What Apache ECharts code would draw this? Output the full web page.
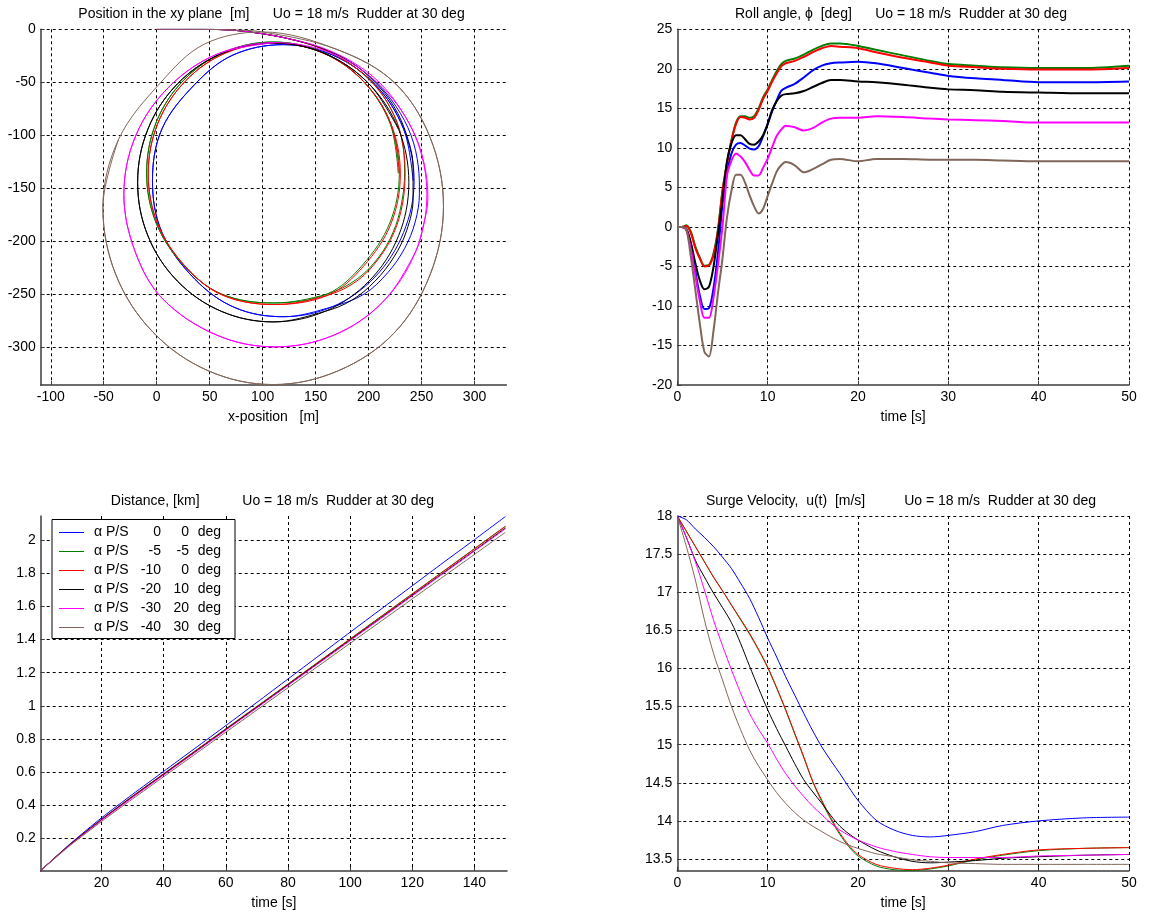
<!DOCTYPE html>
<html><head><meta charset="utf-8">
<script src="https://cdn.jsdelivr.net/npm/echarts@6/dist/echarts.min.js"></script>
<style>html,body{margin:0;padding:0;background:#fff}#c{width:1158px;height:915px}</style>
</head><body><div id="c"></div>
<script>
// ---------- legend / series labels ----------
const PORT = ['0', '-5', '-10', '-20', '-30', '-40'];
const STBD = ['0', '-5', '0', '10', '20', '30'];
const NAMES = ['a0', 'a1', 'a2', 'a3', 'a4', 'a5'];
const COLORS = ['#0000ff', '#008000', '#ff0000', '#000000', '#ff00ff', '#806659'];

// ---------- panel 1: xy position [m] ----------
const xyBlue = [[0,0],[35,0],[66,-0.5],[95,-3.5],[125,-9],[155,-17.5],[183,-31],[207,-50],[226,-73],[240,-100],[247,-130],[248,-155],[244,-182],[234,-207],[218,-230],[196,-250],[166,-262],[119.5,-271.5],[74,-263],[36,-236],[5,-192],[-4,-143],[5,-94],[36,-52],[72,-24.3],[119.5,-14.5],[166,-24.3],[206,-52],[233,-94],[243,-143],[233,-192],[206,-234],[166,-262],[119.5,-271.5],[74,-263],[36,-236],[5,-192],[-4,-143],[5,-94],[36,-52],[72,-24.3],[119.5,-14.5],[166,-24.3],[206,-52],[233,-94],[242,-143]];
const xyGreen = [[0,0],[35,0],[66,-0.5],[95,-3.5],[125,-9],[155,-18],[183,-33],[205,-52],[221,-75],[231,-102],[234,-135],[231,-165],[223,-192],[209,-216],[189,-236],[161,-250],[110,-258.5],[61,-250],[25.5,-223],[-0.5,-183],[-9.5,-136],[-0.5,-88],[25.5,-48],[64,-21.5],[110,-12],[156,-21.5],[194,-48],[220,-88],[229,-136],[220,-183],[194,-223],[161,-250],[110,-258.5],[61,-250],[25.5,-223],[-0.5,-183],[-9.5,-136],[-0.5,-88],[25.5,-48],[64,-21.5],[110,-12],[156,-21.5],[194,-48],[220,-88],[228,-136]];
const xyRed = [[0,0],[35,0],[66,-0.5],[95,-3.5],[125,-9],[155,-18],[183,-33],[205,-52],[221,-75],[231,-102],[234.5,-135],[232,-165],[224,-192],[210,-216],[190,-237],[162,-251],[111,-260],[62,-251],[27,-224],[1,-184],[-8,-136.5],[1,-89],[27,-49],[65,-22.4],[111,-13],[157,-22.4],[195,-49],[221,-89],[230,-136.5],[221,-184],[195,-224],[162,-251],[111,-260],[62,-251],[27,-224],[1,-184],[-8,-136.5],[1,-89],[27,-49],[65,-22.4],[111,-13],[157,-22.4],[195,-49],[221,-89],[229,-136]];
const xyBlack = [[0,0],[35,0],[66,-0.5],[95,-3.5],[125,-9],[155,-17.5],[183,-31],[206,-50],[224,-73],[236,-100],[242,-130],[242,-160],[236,-190],[224,-215],[206,-238],[184,-256],[159,-266.4],[110,-276.4],[61,-266.4],[19.5,-237.8],[-8.3,-195.1],[-18,-144.7],[-8.3,-94.3],[19.5,-51.6],[61,-23],[110,-13],[159,-23],[200.5,-51.6],[228.3,-94.3],[238,-144.7],[228.3,-195.1],[200.5,-237.8],[159,-266.4],[110,-276.4],[61,-266.4],[19.5,-237.8],[-8.3,-195.1],[-18,-144.7],[-8.3,-94.3],[19.5,-51.6],[61,-23],[110,-13],[159,-23],[200.5,-51.6],[228,-94]];
const xyMagenta = [[0,0],[35,0],[66,-0.5],[95,-3.5],[125,-9],[155,-17],[185,-31],[210,-50],[230,-75],[246,-105],[254,-135],[256,-160],[251,-188],[244,-211],[213,-258],[167,-289],[112,-300],[57,-289],[6,-255],[-20,-211],[-31,-156],[-20,-101],[11,-55],[57,-23.5],[112,-12.6],[167,-23.5],[213,-55],[244,-101],[255,-156],[244,-211],[213,-258],[167,-289],[112,-300],[57,-289],[6,-255],[-20,-211],[-31,-156],[-20,-101],[11,-55],[57,-23.5],[112,-12.6]];
const xyBrown = [[0,0],[35,0],[66,-0.5],[100,-2.5],[170,-19],[224,-50],[258,-102],[270.7,-167],[258,-232],[224,-287],[171.5,-322.5],[110,-335.6],[48.5,-322.5],[-3.6,-286],[-38.5,-232],[-50.8,-168],[-36,-104],[4,-50],[45,-14],[100,-2.5],[170,-19],[224,-50],[258,-102],[270.7,-167],[258,-232],[224,-287],[171.5,-322.5],[110,-335.6],[48.5,-322.5],[-3.6,-286],[-38.5,-232],[-50.8,-168],[-36,-104]];

// ---------- panel 2: roll angle [deg] ----------
const T2 = [0,0.5,1,1.5,2,2.5,3,3.5,4,4.5,5,5.5,6,6.5,7,7.5,8,8.5,9,9.5,10,10.5,11,11.5,12,13,14,15,16,17,18,20,22,25,28,30,33,36,40,45,50];
const rollBlue = [0,0,-0.3,-2.2,-5.6,-8.7,-10.4,-10.3,-7.8,-3.3,2.8,6.8,9.3,10.4,10.6,10.3,9.9,9.8,10.2,11.5,13.0,14.6,16.0,17.2,17.6,18.1,18.9,19.8,20.4,20.7,20.8,20.9,20.7,20.1,19.5,19.1,18.8,18.6,18.3,18.3,18.4];
const rollGreen = [0,0,0.2,-0.6,-2.5,-3.9,-4.9,-4.8,-3.4,-0.3,4.6,8.1,11.0,13.2,14.0,14.0,13.8,14.0,15.0,16.4,17.4,18.6,19.7,20.6,21.0,21.3,21.8,22.4,22.9,23.2,23.2,22.9,22.4,21.7,21.0,20.6,20.4,20.2,20.1,20.1,20.4];
const rollRed = [0,0,0.1,-0.8,-2.7,-4.0,-5.0,-4.9,-3.6,-0.5,4.5,8.0,10.9,13.0,13.9,13.8,13.6,13.8,14.8,16.2,17.2,18.4,19.4,20.3,20.7,21.0,21.5,22.1,22.6,22.9,22.8,22.6,22.1,21.4,20.8,20.4,20.2,20.0,19.9,19.9,20.1];
const rollBlack = [0,0,-0.3,-2.0,-4.6,-6.8,-7.9,-7.6,-5.1,-1.0,3.4,8.3,10.6,11.6,11.6,11.1,10.5,10.4,10.8,11.6,13.0,14.8,15.9,16.6,16.8,16.9,17.2,17.7,18.2,18.6,18.6,18.4,18.3,18.0,17.6,17.4,17.3,17.1,17.0,16.9,16.9];
const rollMagenta = [0,0,-0.4,-2.8,-6.2,-9.4,-11.5,-11.5,-9.0,-4.8,0.0,6.5,8.4,9.3,8.9,8.2,7.2,6.5,6.5,7.5,8.6,10.1,11.5,12.3,12.8,12.6,12.2,12.5,13.2,13.7,13.8,13.8,14.0,13.9,13.7,13.6,13.5,13.4,13.2,13.2,13.2];
const rollBrown = [0,0,-0.3,-3.8,-8.0,-12.3,-15.8,-16.4,-13.2,-8.4,-4.0,1.2,4.6,6.6,6.6,5.6,4.0,2.6,1.7,2.3,3.9,5.5,7.0,7.8,8.2,7.8,6.9,7.3,7.9,8.5,8.6,8.3,8.6,8.6,8.5,8.5,8.5,8.4,8.3,8.3,8.3];

// ---------- panel 3: distance [km] ----------
const T3 = [0.4,10,20,30,40,50,60,70,80,90,100,110,120,130,140,150];
const dBlue = [0.007,0.17,0.325,0.467,0.605,0.743,0.881,1.021,1.162,1.303,1.444,1.584,1.724,1.864,2.002,2.142];
const dGreen = [0.007,0.167,0.316,0.456,0.591,0.727,0.862,0.997,1.132,1.268,1.404,1.540,1.676,1.812,1.948,2.084];
const dRed = [0.007,0.167,0.315,0.455,0.590,0.725,0.860,0.995,1.130,1.266,1.402,1.538,1.674,1.810,1.946,2.082];
const dBlack = [0.007,0.166,0.313,0.452,0.587,0.722,0.857,0.992,1.127,1.262,1.397,1.532,1.667,1.802,1.937,2.073];
const dMagenta = [0.007,0.163,0.310,0.448,0.583,0.718,0.853,0.988,1.123,1.258,1.393,1.528,1.663,1.798,1.933,2.068];
const dBrown = [0.007,0.160,0.303,0.439,0.573,0.707,0.841,0.975,1.109,1.243,1.377,1.511,1.645,1.779,1.913,2.047];

// ---------- panel 4: surge velocity [m/s] ----------
const T4 = [0,1,2,3,4,5,6,7,8,9,10,11,12,13,14,15,16,17,18,19,20,22,24,26,28,30,33,36,40,45,50];
const uBlue = [18.0,17.95,17.83,17.72,17.6,17.46,17.31,17.12,16.92,16.67,16.40,16.15,15.89,15.65,15.41,15.18,14.97,14.79,14.62,14.44,14.27,14.01,13.88,13.81,13.79,13.81,13.86,13.94,14.0,14.04,14.05];
const uGreen = [18.0,17.8,17.6,17.4,17.2,17.02,16.83,16.64,16.45,16.24,16.01,15.74,15.45,15.14,14.83,14.51,14.25,14.02,13.82,13.66,13.54,13.41,13.36,13.35,13.37,13.41,13.49,13.55,13.61,13.64,13.65];
const uRed = [18.0,17.8,17.6,17.4,17.2,17.02,16.83,16.65,16.46,16.25,16.02,15.75,15.46,15.15,14.84,14.52,14.27,14.04,13.84,13.68,13.56,13.43,13.38,13.36,13.38,13.42,13.5,13.56,13.62,13.64,13.65];
const uBlack = [18.0,17.72,17.42,17.2,16.99,16.8,16.6,16.33,16.03,15.74,15.46,15.21,14.98,14.75,14.54,14.38,14.23,14.07,13.93,13.83,13.75,13.62,13.53,13.47,13.45,13.46,13.48,13.51,13.53,13.55,13.56];
const uMagenta = [18.0,17.72,17.4,17.03,16.64,16.3,15.98,15.68,15.41,15.2,15.02,14.81,14.62,14.46,14.32,14.19,14.08,13.97,13.88,13.81,13.75,13.66,13.6,13.56,13.53,13.52,13.52,13.52,13.54,13.55,13.56];
const uBrown = [18.0,17.6,17.16,16.64,16.2,15.85,15.5,15.2,14.93,14.72,14.54,14.37,14.23,14.11,14.01,13.93,13.86,13.79,13.73,13.68,13.64,13.57,13.53,13.49,13.47,13.45,13.44,13.43,13.43,13.43,13.43];

// ---------- titles ----------
const TITLE1 = 'Position in the xy plane  [m]      Uo = 18 m/s  Rudder at 30 deg';
const TITLE2 = 'Roll angle, \u03d5  [deg]      Uo = 18 m/s  Rudder at 30 deg';
const TITLE3 = 'Distance, [km]           Uo = 18 m/s  Rudder at 30 deg';
const TITLE4 = 'Surge Velocity,  u(t)  [m/s]          Uo = 18 m/s  Rudder at 30 deg';

const FONT = '"Liberation Sans", Arial, sans-serif';
const AX = '#3c3c3c';

function mkAxis(p) {
  const a = {
    type: 'value', gridIndex: p.grid, min: p.min, max: p.max,
    position: p.pos,
    axisLine: {show: true, onZero: false, lineStyle: {color: AX, width: 1.5}},
    axisTick: {show: true, inside: true, length: 4, lineStyle: {color: AX, width: 1}},
    axisLabel: {show: true, color: '#000', fontSize: 14, fontFamily: FONT, margin: p.margin,
      showMinLabel: p.minLabel, showMaxLabel: p.maxLabel},
    splitLine: {show: true, showMinLine: p.minLine, showMaxLine: p.maxLine,
      lineStyle: {color: '#000', width: 1, type: [3, 3]}}
  };
  if (p.interval != null) a.interval = p.interval;
  if (p.split != null) a.splitNumber = p.split;
  if (p.name) {
    a.name = p.name; a.nameLocation = 'middle'; a.nameGap = 25;
    a.nameTextStyle = {color: '#000', fontSize: 14, fontFamily: FONT};
  }
  return a;
}

const grids = [
  {left: 40.7, top: 29.3, width: 465.6, height: 355.7},
  {left: 677.3, top: 29.3, width: 451.7, height: 355.7},
  {left: 40.7, top: 516, width: 466.3, height: 355},
  {left: 677.3, top: 516, width: 451.7, height: 355}
];

const xAxes = [
  mkAxis({grid: 0, pos: 'bottom', min: -109.5, max: 330, split: 9, margin: 5, minLabel: false, maxLabel: false, minLine: false, maxLine: false, name: 'x-position   [m]'}),
  mkAxis({grid: 1, pos: 'bottom', min: 0, max: 50, interval: 10, margin: 5, minLabel: true, maxLabel: true, minLine: false, maxLine: true, name: 'time [s]'}),
  mkAxis({grid: 2, pos: 'bottom', min: 0.4, max: 150.5, split: 7, margin: 5, minLabel: false, maxLabel: false, minLine: false, maxLine: false, name: 'time [s]'}),
  mkAxis({grid: 3, pos: 'bottom', min: 0, max: 50, interval: 10, margin: 5, minLabel: true, maxLabel: true, minLine: false, maxLine: true, name: 'time [s]'})
];
const yAxes = [
  mkAxis({grid: 0, pos: 'left', min: -336, max: 0, split: 7, margin: 5, minLabel: false, maxLabel: true, minLine: false, maxLine: true}),
  mkAxis({grid: 1, pos: 'left', min: -20, max: 25, interval: 5, margin: 5, minLabel: true, maxLabel: true, minLine: false, maxLine: true}),
  mkAxis({grid: 2, pos: 'left', min: 0.004, max: 2.145, split: 10, margin: 5, minLabel: false, maxLabel: false, minLine: false, maxLine: false}),
  mkAxis({grid: 3, pos: 'left', min: 13.343, max: 18, split: 9, margin: 5, minLabel: false, maxLabel: true, minLine: false, maxLine: true})
];

const series = [];
function addSet(sets, tArr, gi, width, smooth) {
  sets.forEach((vals, i) => {
    series.push({
      name: NAMES[i], type: 'line', xAxisIndex: gi, yAxisIndex: gi,
      data: tArr ? tArr.map((t, k) => [t, vals[k]]) : vals,
      symbol: 'none', showSymbol: false, smooth: smooth, animation: false,
      color: COLORS[i], itemStyle: {color: COLORS[i]},
      lineStyle: {width: width, color: COLORS[i]}
    });
  });
}
addSet([dBlue, dGreen, dRed, dBlack, dMagenta, dBrown], T3, 2, 1, 0.2);
addSet([xyBlue, xyGreen, xyRed, xyBlack, xyMagenta, xyBrown], null, 0, 1, 0.35);
addSet([rollBlue, rollGreen, rollRed, rollBlack, rollMagenta, rollBrown], T2, 1, 2, 0.3);
addSet([uBlue, uGreen, uRed, uBlack, uMagenta, uBrown], T4, 3, 1, 0.3);

const tStyle = {color: '#000', fontSize: 14, fontWeight: 'normal', fontFamily: FONT, lineHeight: 14};
const rTok = {fontSize: 14, fontFamily: FONT, lineHeight: 14, color: '#000'};
const option = {
  animation: false,
  backgroundColor: '#fff',
  title: [
    {text: TITLE1, left: 271.5, top: 7.5, textAlign: 'center', padding: 0, textStyle: tStyle},
    {text: TITLE2, left: 901, top: 7.5, textAlign: 'center', padding: 0, textStyle: tStyle},
    {text: TITLE3, left: 272.5, top: 494, textAlign: 'center', padding: 0, textStyle: tStyle},
    {text: TITLE4, left: 901, top: 494, textAlign: 'center', padding: 0, textStyle: tStyle}
  ],
  legend: {
    data: NAMES, orient: 'vertical', left: 52, top: 519.5,
    padding: [6, 14, 4, 7], itemGap: 5, itemWidth: 25, itemHeight: 1, icon: 'rect',
    backgroundColor: '#fff', borderColor: '#000', borderWidth: 1, borderRadius: 0,
    selectedMode: false,
    formatter: function (name) {
      const i = NAMES.indexOf(name);
      return '{a|\u03b1 P/S}{b|' + PORT[i] + '}{c|' + STBD[i] + '}{d|deg}';
    },
    textStyle: {
      color: '#000', fontSize: 14, fontFamily: FONT, lineHeight: 14,
      rich: {
        a: Object.assign({width: 37, padding: [0, 0, 0, 5]}, rTok),
        b: Object.assign({width: 30, align: 'right'}, rTok),
        c: Object.assign({width: 28, align: 'right'}, rTok),
        d: Object.assign({width: 32, align: 'right'}, rTok)
      }
    }
  },
  grid: grids,
  xAxis: xAxes,
  yAxis: yAxes,
  series: series
};

const chart = echarts.init(document.getElementById('c'), null, {renderer: 'canvas'});
chart.setOption(option);
</script>
</body></html>
